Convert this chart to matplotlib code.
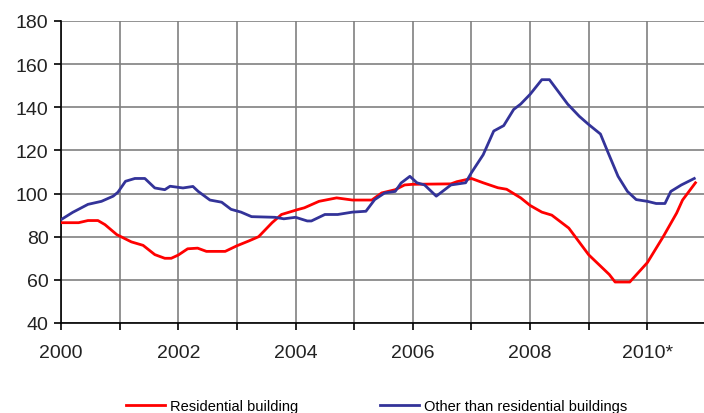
import matplotlib
matplotlib.use("Agg")
import matplotlib.pyplot as plt
from matplotlib.ticker import MultipleLocator

plt.rcParams['font.family'] = ['Liberation Sans', 'DejaVu Sans']

# Residential building (year, index)
res_x = [2000.0, 2000.3, 2000.46, 2000.63, 2000.75, 2000.95, 2001.2, 2001.4, 2001.6, 2001.77,
         2001.88, 2002.0, 2002.16, 2002.33, 2002.48, 2002.8, 2003.0, 2003.2, 2003.37, 2003.6,
         2003.76, 2004.04, 2004.15, 2004.4, 2004.7, 2004.97, 2005.3, 2005.47, 2005.7, 2005.86,
         2006.0, 2006.65, 2006.75, 2007.0, 2007.2, 2007.45, 2007.6, 2007.84, 2008.0, 2008.2,
         2008.37, 2008.66, 2009.0, 2009.35, 2009.45, 2009.7, 2010.0, 2010.27, 2010.5, 2010.6,
         2010.82]
res_y = [86.5, 86.5, 87.5, 87.5, 85.6, 81, 77.6, 76, 71.7, 70,
         70, 71.5, 74.4, 74.7, 73.2, 73.2, 75.8, 78, 80, 86.5,
         90.3, 92.6, 93.4, 96.4, 98, 97, 97, 100.3, 101.8, 104,
         104.3, 104.5, 105.5, 107, 105, 102.7, 102, 98, 94.5, 91.4,
         90, 84, 71.6, 62.5, 59, 59, 68, 80, 91, 97,
         105]

# Other than residential buildings
oth_x = [2000.0, 2000.2, 2000.46, 2000.69, 2000.89, 2000.97, 2001.1, 2001.26, 2001.43, 2001.6,
         2001.77, 2001.86, 2002.08, 2002.25, 2002.34, 2002.54, 2002.74, 2002.9, 2003.07, 2003.25,
         2003.65, 2003.8, 2004.0, 2004.2, 2004.27, 2004.5, 2004.72, 2004.97, 2005.2, 2005.35,
         2005.52, 2005.7, 2005.8, 2005.95, 2006.07, 2006.2, 2006.4, 2006.65, 2006.9, 2007.0,
         2007.2, 2007.38, 2007.55, 2007.72, 2007.84, 2008.0, 2008.2, 2008.33, 2008.64, 2008.84,
         2009.0, 2009.2, 2009.33, 2009.5, 2009.66, 2009.81, 2010.0, 2010.15, 2010.3, 2010.4,
         2010.58, 2010.8]
oth_y = [87.9, 91.3, 95, 96.4, 98.8, 100.6, 105.7, 107, 107, 102.6,
         101.8, 103.4, 102.6, 103.3, 101, 97, 96, 92.7, 91.4, 89.3,
         89, 88.3, 89, 87.3, 87.3, 90.3, 90.3, 91.4, 91.8, 97.2,
         100.3, 101, 104.9, 108, 105, 104, 98.8, 104, 105, 109.7,
         118, 129, 131.5, 139, 141.5, 146, 152.8, 152.8, 141.5, 135.8,
         132, 127.6, 119, 108, 101, 97.2, 96.4, 95.4, 95.4, 101,
         104, 107]

xticks = [2000, 2002, 2004, 2006, 2008, 2010]
xlabels = ['2000', '2002', '2004', '2006', '2008', '2010*']

fig = plt.figure(figsize=(7.04, 4.14), dpi=100)
ax = fig.add_axes([61/704, 1-324/414, 645/704, 302/414])

ax.plot(res_x, res_y, color='#ff0000', lw=2.0, label='Residential building', zorder=3)
ax.plot(oth_x, oth_y, color='#333399', lw=2.0, label='Other than residential buildings', zorder=4)

ax.set_xlim(2000, 2011)
ax.set_ylim(40, 180)
ax.set_xticks(xticks)
ax.set_xticklabels(xlabels)
ax.xaxis.set_minor_locator(MultipleLocator(1))
ax.yaxis.set_major_locator(MultipleLocator(20))

ax.grid(True, which='both', color='#808080', lw=1.2)
ax.set_axisbelow(True)
for s in ['top', 'right']:
    ax.spines[s].set_visible(False)
for s in ['left', 'bottom']:
    ax.spines[s].set_color('black')
    ax.spines[s].set_linewidth(1.2)
ax.tick_params(axis='both', which='both', direction='out', length=5, width=1.2, colors='black')
ax.tick_params(axis='both', labelsize=14, labelcolor='#222222')
ax.tick_params(axis='x', pad=10)
ax.tick_params(axis='y', pad=4)

fig.legend(loc='center', bbox_to_anchor=(0.535, 0.016), ncol=2, frameon=False,
           fontsize=10.5, handlelength=2.7, handletextpad=0.35, columnspacing=5.6)

fig.savefig('out.png', dpi=100)
